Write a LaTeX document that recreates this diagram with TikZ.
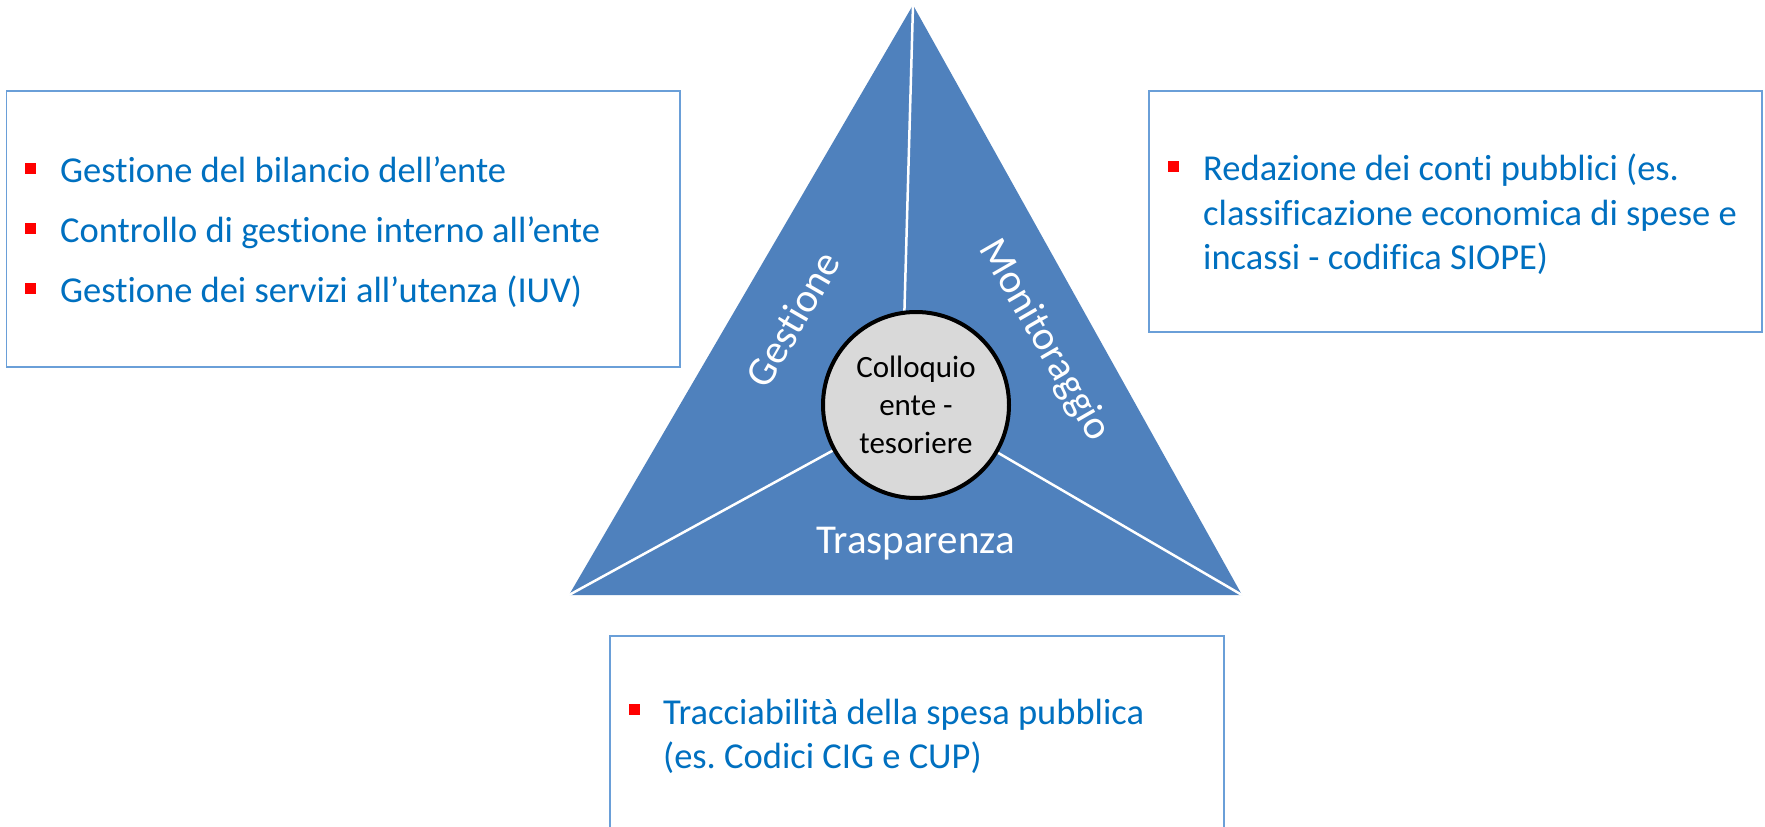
\documentclass[tikz,border=0pt]{standalone}
\usepackage{fontspec}
\setmainfont{Carlito}[Ligatures={NoCommon}]
\frenchspacing
\definecolor{trifill}{HTML}{4F81BD}
\definecolor{boxline}{HTML}{6A9FD8}
\definecolor{txtblue}{HTML}{0070C0}
\definecolor{circfill}{HTML}{D9D9D9}
\definecolor{bulred}{HTML}{FF0000}
\begin{document}
\begin{tikzpicture}[x=1pt,y=-1pt,
  boxln/.style={draw=boxline,line width=1.5pt},
  btxt/.style={text=txtblue,inner sep=0pt,anchor=base west,font=\fontsize{36.5}{44}\selectfont},
  bul/.style={fill=bulred,minimum size=11pt,inner sep=0pt},
  lbl/.style={text=white,inner sep=0pt,anchor=base,font=\fontsize{41}{50}\selectfont},
  divider/.style={draw=white,line width=2.5pt},
  hub/.style={circle,draw=black,line width=4pt,fill=circfill,minimum size=186pt,inner sep=0pt,align=center,font=\fontsize{31}{38}\selectfont}]
\useasboundingbox (0,0) rectangle (1765,827);
\fill[white] (0,0) rectangle (1765,827);
% boxes
\draw[boxln] (6.7,91) rectangle (680,367);
\draw[boxln] (1149,91) rectangle (1762,332);
\draw[boxln] (610,830) -- (610,636) -- (1224,636) -- (1224,830);
% left box text
\node[bul] (bl1) at (30.5,168) {};
\node[btxt] (l1) at (60,182) {Gestione del bilancio dell’ente};
\node[bul] (bl2) at (30.5,228) {};
\node[btxt] (l2) at (60,242) {Controllo di gestione interno all’ente};
\node[bul] (bl3) at (30.5,288) {};
\node[btxt] (l3) at (60,302) {Gestione dei servizi all’utenza (IUV)};
% right box text
\node[bul] (br1) at (1173,166) {};
\node[btxt] (r1) at (1203,180) {Redazione dei conti pubblici (es.};
\node[btxt] (r2) at (1203,225) {classificazione economica di spese e};
\node[btxt] (r3) at (1203,269) {incassi - codifica SIOPE)};
% bottom box text
\node[bul] (bb1) at (634,709.5) {};
\node[btxt] (t1) at (663,724) {Tracciabilità della spesa pubblica};
\node[btxt] (t2) at (663,768) {(es. Codici CIG e CUP)};
% triangle
\coordinate (A) at (913,5);
\coordinate (BL) at (569,595);
\coordinate (BR) at (1242,595);
\fill[trifill] (A) -- (BL) -- (BR) -- cycle;
\coordinate (cc) at (916,405);
\node[hub,draw=none,fill=none] (c0) at (cc) {};
\draw[divider] (A) -- (c0.97);
\draw[divider] (BL) -- (cc);
\draw[divider] (BR) -- (cc);
\node[hub] (c) at (cc) {Colloquio\\ente -\\tesoriere};
% labels
\node[lbl] (trasp) at (915.5,553) {Trasparenza};
\node[lbl,rotate=60] (gest) at (805,326) {Gestione};
\node[lbl,rotate=-60] (monit) at (1035,346) {Monitoraggio};
\end{tikzpicture}
\end{document}
